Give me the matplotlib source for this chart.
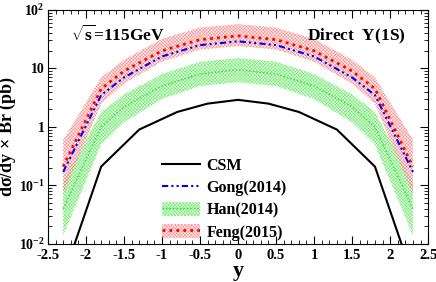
import matplotlib.pyplot as plt
import matplotlib.ticker as mticker
from matplotlib.patches import Patch
import numpy as np

plt.rcParams['font.family'] = 'Liberation Serif'
plt.rcParams['font.weight'] = 'bold'
plt.rcParams['mathtext.fontset'] = 'custom'
plt.rcParams['mathtext.rm'] = 'Liberation Serif:bold'
plt.rcParams['mathtext.it'] = 'Liberation Serif:bold'
plt.rcParams['mathtext.bf'] = 'Liberation Serif:bold'
plt.rcParams['hatch.linewidth'] = 0.4

# Data
rap = [-2.3, -1.8, -1.5, -1.0, -0.5, 0.0, 0.5, 1.0, 1.5, 1.8, 2.3]
csm_y = [-2.3, -1.8, -1.3, -0.8, -0.4, 0.0, 0.4, 0.8, 1.3, 1.8, 2.3]
csm = [0.0027, 0.21, 0.9, 1.8, 2.5, 2.9, 2.5, 1.8, 0.9, 0.21, 0.0027]
gong = [0.17, 3.5, 7.0, 16, 25, 29, 25, 16, 7.0, 3.5, 0.17]
han = [0.04, 1.0, 2.2, 5.0, 8.0, 9.5, 8.0, 5.0, 2.2, 1.0, 0.04]
han_lo = [0.014, 0.5, 1.2, 3.0, 5.0, 5.8, 5.0, 3.0, 1.2, 0.5, 0.014]
han_hi = [0.11, 1.8, 3.6, 8.0, 13, 15, 13, 8.0, 3.6, 1.8, 0.11]
feng = [0.21, 4.5, 9.0, 20, 31, 36, 31, 20, 9.0, 4.5, 0.21]
feng_lo = [0.07, 2.5, 5.5, 13, 21, 24, 21, 13, 5.5, 2.5, 0.07]
feng_hi = [0.6, 7.0, 14, 32, 50, 57, 50, 32, 14, 7.0, 0.6]

green_h = '#55ee55'
red_h = '#ff7f7f'
hatch = 'x' * 10

fig = plt.figure(figsize=(4.36, 2.82), dpi=100)
ax = fig.add_axes([0.110, 0.135, 0.872, 0.830])

# smooth bands in log space
xs = np.linspace(-2.3, 2.3, 400)
def smooth(x, y):
    return 10 ** np.interp(xs, x, np.log10(y))

ax.fill_between(xs, smooth(rap, han_lo), smooth(rap, han_hi), facecolor='none',
                edgecolor=green_h, hatch=hatch, linewidth=0)
ax.fill_between(xs, smooth(rap, feng_lo), smooth(rap, feng_hi), facecolor='none',
                edgecolor=red_h, hatch=hatch, linewidth=0)

l_csm, = ax.plot(csm_y, csm, color='black', lw=1.5)
l_han, = ax.plot(rap, han, color='#22dd22', lw=1.0, ls=(0, (1, 1.5)))
l_feng, = ax.plot(rap, feng, color='red', lw=2.0, ls=(0, (1, 1.5)))
l_gong, = ax.plot(rap, gong, color='blue', lw=1.5, ls=(0, (3, 1.5, 1, 1.5, 1, 1.5)))

h_han = (Patch(facecolor='none', edgecolor=green_h, hatch=hatch, lw=0), l_han)
h_feng = (Patch(facecolor='none', edgecolor=red_h, hatch=hatch, lw=0), l_feng)
ax.legend([l_csm, l_gong, h_han, h_feng], ['CSM', 'Gong(2014)', 'Han(2014)', 'Feng(2015)'],
          loc='upper left', bbox_to_anchor=(0.30, 0.37), frameon=False,
          handlelength=2.4, handleheight=1.0, handletextpad=0.4, labelspacing=0.35,
          borderpad=0, borderaxespad=0,
          prop={'family': 'Liberation Serif', 'weight': 'bold', 'size': 11.5})

ax.set_yscale('log')
ax.set_xlim(-2.5, 2.5)
ax.set_ylim(0.01, 100)
ax.xaxis.set_minor_locator(mticker.MultipleLocator(0.1))
ax.set_xticks([-2.5, -2, -1.5, -1, -0.5, 0, 0.5, 1, 1.5, 2, 2.5])
ax.set_xticklabels(['-2.5', '-2', '-1.5', '-1', '-0.5', '0', '0.5', '1', '1.5', '2', '2.5'])
ax.set_yticks([0.01, 0.1, 1, 10, 100])
ax.set_yticklabels(['10$^{-2}$', '10$^{-1}$', '1', '10', '10$^{2}$'])
ax.yaxis.set_minor_locator(mticker.LogLocator(subs=np.arange(2, 10)))
ax.yaxis.set_minor_formatter(mticker.NullFormatter())
ax.tick_params(which='both', direction='in', top=True, right=True, labelsize=10.5)
ax.tick_params(axis='y', labelsize=10, pad=2.5)
ax.tick_params(which='major', length=6)
ax.tick_params(which='minor', length=3)
ax.tick_params(axis='x', pad=4)

ax.set_xlabel('y', fontsize=16, fontweight='bold', labelpad=-1)
ax.set_ylabel(r'd$\sigma$/dy $\times$ Br (pb)', fontsize=13, fontweight='bold')
ax.yaxis.set_label_coords(-0.078, 0.46)

ax.text(-2.2, 30, r'$\sqrt{\rm s}$=115GeV', fontsize=12.5, fontweight='bold')
ax.text(2.2, 30, r'Direct  $\Upsilon$(1S)', fontsize=12.5, fontweight='bold', ha='right')

fig.savefig('out.png', dpi=100)
